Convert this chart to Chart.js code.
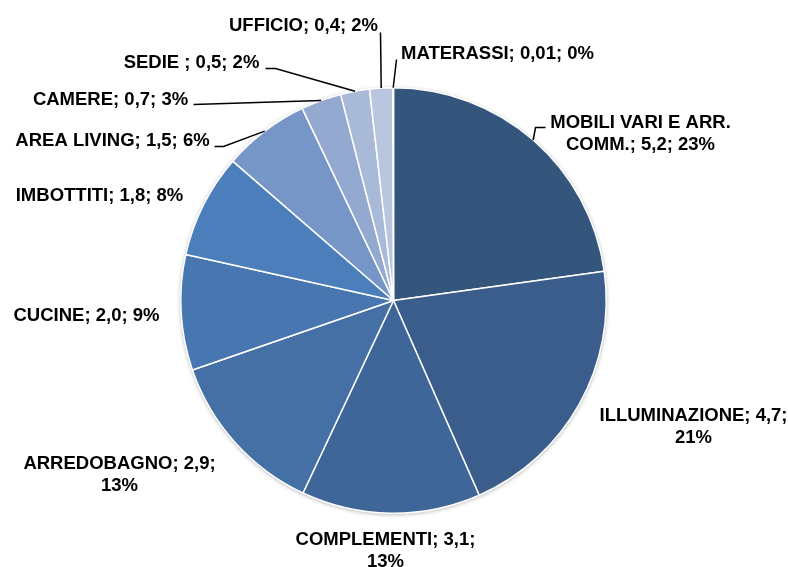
<!DOCTYPE html>
<html><head><meta charset="utf-8">
<script src="https://cdn.jsdelivr.net/npm/chart.js@4.4.1/dist/chart.umd.min.js"></script>
<style>html,body{margin:0;padding:0;background:#fff}#wrap{width:788px;height:567px}</style>
</head><body><div id="wrap"><canvas id="c" width="788" height="567"></canvas></div>
<script>
// ---- data ----
const categories = ["MOBILI VARI E ARR. COMM.", "ILLUMINAZIONE", "COMPLEMENTI", "ARREDOBAGNO", "CUCINE", "IMBOTTITI", "AREA LIVING", "CAMERE", "SEDIE ", "UFFICIO", "MATERASSI"];
const values = [5.2, 4.7, 3.1, 2.9, 2.0, 1.8, 1.5, 0.7, 0.5, 0.4, 0.01];
const valueLabels = ["5,2", "4,7", "3,1", "2,9", "2,0", "1,8", "1,5", "0,7", "0,5", "0,4", "0,01"];
const percentLabels = ["23%", "21%", "13%", "13%", "9%", "8%", "6%", "3%", "2%", "2%", "0%"];

// ---- styles / layout ----
const colors = ["#34567d", "#3a5d8b", "#3f6698", "#4470a6", "#4776b0", "#4b7ebb", "#7596c6", "#94a9cf", "#a9b9d8", "#b9c6e0", "#ccd6ea"];
// label centre offsets from pie centre, wrap width, optional leader elbow points (offsets from pie centre)
const labelLayout = [
  {dx: 247, dy: -167, wrap: 200, pts: [[142, -173], [152, -173]]},
  {dx: 300, dy: 126, wrap: 215, maxW: 188},
  {dx: -8, dy: 250, wrap: 195},
  {dx: -274, dy: 174, wrap: 205},
  {dx: -307, dy: 15, wrap: 400},
  {dx: -294, dy: -105, wrap: 400},
  {dx: -281, dy: -160, wrap: 400, pts: [[-170, -154], [-179, -154]]},
  {dx: -283, dy: -201, wrap: 400, pts: [[-200, -196]]},
  {dx: -202, dy: -238, wrap: 400, pts: [[-118, -232], [-128, -232]]},
  {dx: -90, dy: -275, wrap: 400, pts: [[-13, -268]]},
  {dx: 104, dy: -247, wrap: 400, pts: [[3, -241]]}
];
const FONT = 'bold 18.5px "Liberation Sans", Arial, sans-serif';
const LINE_H = 22;

function wrapText(ctx, text, width) {
  const words = text.split(' ');
  const lines = [];
  let cur = '';
  for (const w of words) {
    const t = cur ? cur + ' ' + w : w;
    if (cur && ctx.measureText(t).width > width) { lines.push(cur); cur = w; }
    else cur = t;
  }
  if (cur) lines.push(cur);
  return lines;
}

const shadowPlugin = {
  id: 'pieShadow',
  beforeDatasetsDraw(chart) {
    const arc = chart.getDatasetMeta(0).data[0];
    if (!arc) return;
    const ctx = chart.ctx;
    ctx.save();
    ctx.shadowColor = 'rgba(0,0,0,0.35)';
    ctx.shadowBlur = 4;
    ctx.shadowOffsetX = 0;
    ctx.shadowOffsetY = 1;
    ctx.fillStyle = '#ffffff';
    ctx.beginPath();
    ctx.arc(arc.x, arc.y, arc.outerRadius, 0, Math.PI * 2);
    ctx.fill();
    ctx.restore();
  }
};

const labelPlugin = {
  id: 'sliceLabels',
  afterDatasetsDraw(chart) {
    const ctx = chart.ctx;
    const meta = chart.getDatasetMeta(0);
    ctx.save();
    ctx.font = FONT;
    ctx.fillStyle = '#000';
    ctx.strokeStyle = '#000';
    ctx.lineWidth = 1.5;
    ctx.textAlign = 'center';
    ctx.textBaseline = 'middle';
    meta.data.forEach((arc, i) => {
      const lay = labelLayout[i];
      const cx = arc.x, cy = arc.y;
      const mid = (arc.startAngle + arc.endAngle) / 2;
      if (lay.pts) {
        ctx.beginPath();
        ctx.moveTo(cx + Math.cos(mid) * arc.outerRadius, cy + Math.sin(mid) * arc.outerRadius);
        lay.pts.forEach(p => ctx.lineTo(cx + p[0], cy + p[1]));
        ctx.stroke();
      }
      const text = categories[i] + '; ' + valueLabels[i] + '; ' + percentLabels[i];
      const lines = wrapText(ctx, text, lay.wrap);
      const x = cx + lay.dx;
      const y0 = cy + lay.dy - (lines.length - 1) * LINE_H / 2;
      lines.forEach((ln, k) => {
        if (lay.maxW) ctx.fillText(ln, x, y0 + k * LINE_H, lay.maxW);
        else ctx.fillText(ln, x, y0 + k * LINE_H);
      });
    });
    ctx.restore();
  }
};

new Chart(document.getElementById('c'), {
  type: 'pie',
  data: {
    labels: categories,
    datasets: [{
      data: values,
      backgroundColor: colors,
      borderColor: '#ffffff',
      borderWidth: 1.5
    }]
  },
  options: {
    responsive: false,
    animation: false,
    layout: {padding: {top: 87, bottom: 53, left: 180, right: 181}},
    plugins: {legend: {display: false}, tooltip: {enabled: false}}
  },
  plugins: [shadowPlugin, labelPlugin]
});
</script>
</body></html>
